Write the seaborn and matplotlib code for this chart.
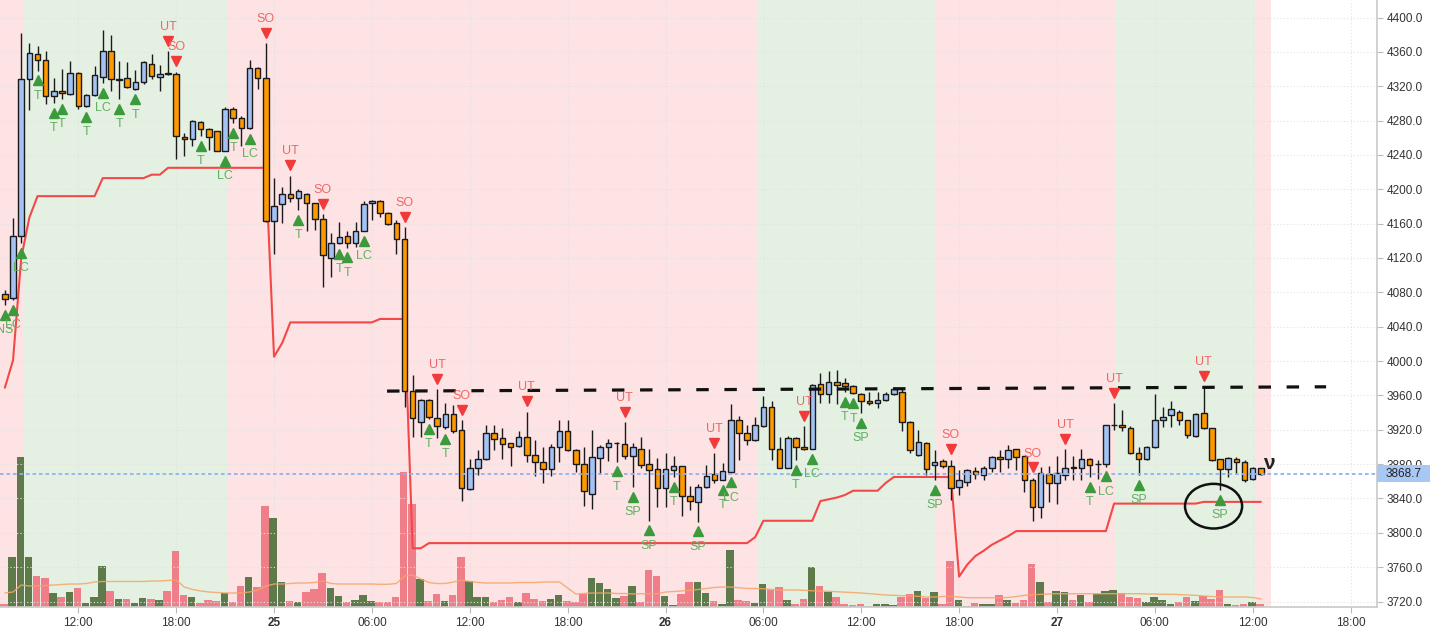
import numpy as np
import pandas as pd
import matplotlib
matplotlib.use("Agg")
import matplotlib.pyplot as plt
import matplotlib.transforms as mtransforms
from matplotlib.patches import Ellipse, Rectangle
import seaborn as sns

sns.set_theme(style="white")
plt.rcParams["font.family"] = ["Liberation Sans", "DejaVu Sans"]

# 30-minute candles, first one on the 24th at 07:30
opens = [
    4078, 4073, 4146, 4328, 4358, 4351, 4309, 4314, 4311, 4335,
    4297, 4310, 4331, 4361, 4327, 4330, 4317, 4325, 4346, 4331,
    4335, 4334, 4261, 4258, 4278, 4270, 4268, 4245, 4293, 4283,
    4271, 4341, 4329, 4163, 4183, 4194, 4190, 4195, 4184, 4165,
    4120, 4137, 4146, 4137, 4152, 4184, 4186, 4172, 4161, 4142,
    3965, 3929, 3955, 3934, 3923, 3938, 3920, 3851, 3875, 3886,
    3916, 3910, 3904, 3901, 3911, 3891, 3882, 3874, 3900, 3919,
    3896, 3880, 3845, 3887, 3900, 3904, 3903, 3889, 3898, 3880,
    3874, 3852, 3873, 3878, 3843, 3836, 3853, 3869, 3862, 3871,
    3931, 3916, 3908, 3924, 3946, 3898, 3876, 3910, 3900, 3898,
    3973, 3962, 3976, 3975, 3971, 3962, 3954, 3951, 3955, 3962,
    3964, 3929, 3891, 3905, 3879, 3884, 3878, 3853, 3859, 3872,
    3867, 3876, 3888, 3886, 3897, 3889, 3861, 3830, 3869, 3858,
    3867, 3876.5, 3876, 3886, 3880, 3880, 3925, 3925, 3922, 3893,
    3886, 3900, 3931, 3937, 3941, 3931, 3913, 3939, 3922, 3886,
    3874, 3886, 3883, 3863, 3875,
]
highs = [
    4083, 4166, 4382, 4370, 4367, 4361, 4330, 4340, 4349, 4336,
    4311, 4343, 4386, 4380, 4349, 4348, 4339, 4349, 4358, 4345,
    4361, 4337, 4266, 4281, 4279, 4271, 4268, 4296, 4296, 4285,
    4351, 4342, 4370, 4213, 4203, 4216, 4200, 4196, 4184, 4171,
    4149, 4162, 4152, 4162, 4186, 4188, 4188, 4173, 4164, 4156,
    3984, 3956, 3956, 3967, 3951, 3949, 3931, 3886, 3896, 3926,
    3926, 3922, 3905, 3918, 3941, 3908, 3900, 3903, 3931, 3931,
    3897, 3900, 3920, 3902, 3909, 3906, 3929, 3905, 3911, 3898,
    3887, 3893, 3889, 3878, 3854, 3857, 3879, 3893, 3881, 3950,
    3936, 3926, 3935, 3959, 3953, 3911, 3913, 3911, 3924, 3973,
    3986, 3988, 3990, 3980, 3972, 3963, 3964, 3964, 3964, 3970,
    3968, 3930, 3920, 3906, 3896, 3886, 3885, 3873, 3874, 3877,
    3878, 3889, 3896, 3902, 3898, 3889, 3864, 3877, 3878, 3889,
    3897, 3889, 3897, 3887, 3885, 3926, 3951, 3943, 3924, 3900,
    3901, 3962, 3947, 3954, 3943, 3931, 3940, 3971, 3922, 3886,
    3888, 3888, 3885, 3877, 3876,
]
lows = [
    4065, 4071, 4137, 4292, 4338, 4299, 4300, 4305, 4310, 4293,
    4296, 4309, 4324, 4315, 4305, 4318, 4316, 4323, 4328, 4315,
    4333, 4235, 4239, 4250, 4262, 4246, 4245, 4244, 4277, 4250,
    4270, 4317, 4162, 4125, 4161, 4185, 4176, 4151, 4153, 4086,
    4098, 4136, 4132, 4133, 4151, 4164, 4168, 4158, 4125, 3947,
    3911, 3911, 3932, 3910, 3921, 3916, 3837, 3850, 3867, 3885,
    3896, 3886, 3878, 3900, 3883, 3866, 3858, 3866, 3883, 3895,
    3871, 3831, 3828, 3869, 3884, 3883, 3886, 3853, 3876, 3814,
    3830, 3830, 3865, 3820, 3826, 3813, 3852, 3858, 3861, 3870,
    3885, 3902, 3907, 3923, 3885, 3876, 3876, 3885, 3896, 3897,
    3951, 3951, 3950, 3964, 3962, 3939, 3949, 3945, 3954, 3961,
    3919, 3893, 3890, 3867, 3861, 3875, 3838, 3844, 3854, 3863,
    3862, 3871, 3871, 3875, 3873, 3848, 3814, 3817, 3836, 3834,
    3861, 3861, 3861, 3865, 3863, 3877, 3920, 3918, 3892, 3867,
    3885, 3899, 3923, 3923, 3925, 3910, 3912, 3921, 3884, 3850,
    3865, 3869, 3859, 3862, 3867,
]
closes = [
    4072, 4146, 4328, 4359, 4350, 4309, 4314, 4312, 4335, 4297,
    4310, 4333, 4361, 4328, 4328, 4319, 4325, 4348, 4332, 4334,
    4334, 4262, 4258, 4280, 4270, 4261, 4245, 4293, 4283, 4271,
    4341, 4330, 4163, 4180, 4195, 4190, 4198, 4184, 4165, 4123,
    4137, 4145, 4138, 4152, 4183, 4186, 4172, 4160, 4142, 3965,
    3934, 3955, 3935, 3924, 3938, 3918, 3852, 3875, 3886, 3916,
    3909, 3903, 3900, 3911, 3891, 3882, 3874, 3900, 3919, 3896,
    3880, 3849, 3888, 3900, 3905, 3905, 3889, 3900, 3879, 3873,
    3852, 3874, 3878, 3843, 3837, 3853, 3866, 3862, 3872, 3931,
    3916, 3908, 3926, 3946, 3898, 3876, 3910, 3900, 3897, 3972,
    3962, 3976, 3972, 3971, 3963, 3954, 3951, 3955, 3962, 3968,
    3929, 3896, 3906, 3874, 3883, 3878, 3852, 3862, 3873, 3869,
    3876, 3888, 3886, 3896, 3888, 3861, 3830, 3870, 3858, 3870,
    3876, 3876, 3886, 3879, 3880.5, 3925, 3925.5, 3923, 3893, 3886,
    3900, 3931, 3935, 3944, 3931, 3914, 3938, 3922, 3885, 3874,
    3887, 3883, 3862, 3875, 3868.7,
]
volumes = [
    3, 50, 150, 50, 31, 29, 14, 10, 15, 19,
    4, 10, 41, 16, 8, 8, 4, 9, 8, 7,
    16, 56, 12, 10, 4, 7, 6, 14, 5, 21,
    30, 20, 101, 89, 25, 6, 5, 15, 18, 34,
    19, 11, 5, 7, 12, 6, 5, 5, 10, 135,
    103, 28, 6, 13, 6, 12, 50, 26, 10, 10,
    5, 7, 10, 5, 14, 8, 6, 8, 12, 6,
    5, 13, 29, 24, 18, 9, 11, 21, 5, 37,
    31, 11, 2, 13, 25, 25, 14, 6, 3, 57,
    7, 6, 4, 23, 17, 20, 7, 3, 8, 40,
    21, 15, 10, 3, 2, 3, 1, 3, 3, 2,
    10, 13, 16, 9, 15, 3, 46, 7, 1, 4,
    3, 3, 12, 7, 4, 7, 43, 25, 5, 16,
    15, 7, 12, 5, 13, 16, 17, 14, 10, 9,
    5, 10, 7, 3, 5, 10, 6, 11, 8, 17,
    3, 2, 3, 5, 3,
]
volume_ma = [
    14, 15, 22, 21, 21, 21.5, 22, 22.5, 23, 23,
    23.5, 25, 25.5, 25.5, 25.5, 25.5, 25.5, 25.5, 26, 26,
    26.5, 27, 20, 17.5, 16, 15, 14.5, 14, 14, 14,
    15, 17, 21, 23, 23, 23.5, 24, 24, 24.5, 26,
    23.5, 23, 23, 23, 23, 23, 22.7, 22.7, 23.5, 31,
    32, 28, 24.5, 23.5, 23.5, 25, 26.7, 25.5, 24.5, 24,
    24, 24, 24, 24.5, 24.5, 24.5, 25, 25, 25, 19,
    13, 13.5, 14, 14, 14, 13.5, 13.5, 13, 13.3, 13.3,
    13.3, 15, 15.5, 16, 16.7, 17.5, 18.5, 19.5, 20, 20,
    19.3, 18.5, 18.5, 18.3, 17.5, 17, 17, 17, 16.7, 16.2,
    16, 15.7, 15.3, 15, 14.5, 14, 13.3, 12.5, 12, 11.7,
    11.3, 11, 10.7, 10, 10, 10.5, 10.7, 10, 9.3, 9.3,
    9.3, 9.3, 9.3, 9.5, 10.5, 11.7, 12.3, 12.7, 13, 13.3,
    13.3, 13.3, 13.3, 13.3, 13.3, 13.3, 13.3, 13.3, 13.3, 13.3,
    13, 13, 12.7, 12.7, 12.5, 12, 11.7, 11, 10.5, 10,
    10, 10, 10, 9.5, 8,
]
stop_line = [
    3969, 4001, 4120, 4167, 4192, 4192, 4192, 4192, 4192, 4192,
    4192, 4192, 4213, 4213, 4213, 4213, 4213, 4213, 4217, 4217,
    4225, 4225, 4225, 4225, 4225, 4225, 4225, 4225, 4225, 4225,
    4225, 4225, 4225, 4005, 4021, 4045, 4045, 4045, 4045, 4045,
    4045, 4045, 4045, 4045, 4045, 4045, 4049, 4049, 4049, 4049,
    3782, 3782, 3788, 3788, 3788, 3788, 3788, 3788, 3788, 3788,
    3788, 3788, 3788, 3788, 3788, 3788, 3788, 3788, 3788, 3788,
    3788, 3788, 3788, 3788, 3788, 3788, 3788, 3788, 3788, 3788,
    3788, 3788, 3788, 3788, 3788, 3788, 3788, 3788, 3788, 3788,
    3788, 3788, 3795, 3814, 3814, 3814, 3814, 3814, 3814, 3814,
    3837, 3839, 3841, 3844, 3849, 3849, 3849, 3849, 3858, 3865,
    3865, 3865, 3865, 3865, 3865, 3865, 3865, 3749, 3763, 3773,
    3779, 3786, 3791, 3796, 3802, 3802, 3802, 3802, 3802, 3802,
    3802, 3802, 3802, 3802, 3802, 3802, 3834, 3834, 3834, 3834,
    3834, 3834, 3834, 3834, 3834, 3834, 3834, 3836, 3836, 3836,
    3836, 3836, 3836, 3836, 3836,
]

# signals (candle index + label)
sell_idx = [20, 21, 32, 35, 39, 49, 53, 56, 64, 76, 87, 98, 116, 126, 130, 136, 147]
sell_lab = ["UT", "SO", "SO", "UT", "SO", "SO", "UT", "SO", "UT", "UT", "UT", "UT",
            "SO", "SO", "UT", "UT", "UT"]
buy_idx = [0, 1, 2, 4, 6, 7, 10, 12, 14, 16, 24, 27, 28, 30, 36, 41, 42, 44, 52, 54,
           75, 77, 79, 82, 85, 88, 89, 97, 99, 103, 104, 105, 114, 133, 135, 139, 149]
buy_lab = ["NS", "LC", "LC", "T", "T", "T", "T", "LC", "T", "T", "T", "LC", "T", "LC",
           "T", "T", "T", "LC", "T", "T", "T", "SP", "SP", "T", "SP", "T", "LC", "T",
           "LC", "T", "T", "SP", "SP", "T", "LC", "SP", "SP"]

# background regime zones, hours since the 24th 00:00
zone_edges = [7.2, 8.65, 21.2, 53.6, 64.6, 75.6, 84.15, 85.15]
zone_bull = [False, True, False, True, False, True, False]

# hand drawn level + annotations
level_hours = [30.93, 88.5]
level_prices = [3965, 3970]
last_price = 3868.7
circle_center = (81.6, 3831)
circle_size = (3.5, 52)
mark_pos = (85.0, 3881)

tick_hours = [12, 18, 24, 30, 36, 42, 48, 54, 60, 66, 72, 78, 84, 90]
tick_labels = ["12:00", "18:00", "25", "06:00", "12:00", "18:00", "26",
               "06:00", "12:00", "18:00", "27", "06:00", "12:00", "18:00"]

n = len(opens)
df = pd.DataFrame({
    "t": 7.5 + 0.5 * np.arange(n),
    "o": opens, "h": highs, "l": lows, "c": closes,
    "v": volumes, "vma": volume_ma, "stop": stop_line,
})
df["up"] = df["c"] >= df["o"]

PINK_BG = "#fde3e4"
GREEN_BG = "#e4f1e2"
UP_BODY = "#a4c2f4"
DN_BODY = "#ff9900"
VOL_UP = "#5f7a4a"
VOL_DN = "#f07e88"
RED_TRI = "#f23a3a"
RED_TXT = "#f06666"
GRN_TRI = "#3b9a3b"
GRN_TXT = "#62ae62"

fig = plt.figure(figsize=(14.3, 6.34), dpi=100)
axv = fig.add_axes([0, 27 / 634, 1377 / 1430, 607 / 634])
ax = axv.twinx()

# zones
for k, bull in enumerate(zone_bull):
    axv.axvspan(zone_edges[k], zone_edges[k + 1], color=GREEN_BG if bull else PINK_BG,
                lw=0, zorder=0)

# volume
axv.bar(df["t"] - 0.05, df["v"], width=0.46, color=np.where(df["up"], VOL_UP, VOL_DN),
        linewidth=0, zorder=2)
sns.lineplot(data=df, x="t", y="vma", ax=axv, color="#f5a467", linewidth=1,
             alpha=0.85, zorder=3, legend=False)
axv.set_ylim(0, 607)
axv.set_yticks([])

# trailing stop
sns.lineplot(data=df, x="t", y="stop", ax=ax, color="#f44848", linewidth=1.5,
             zorder=3, legend=False)

# candles
ax.vlines(df["t"], df["l"], df["h"], color="#1a1a1a", linewidth=1, zorder=4)
body_lo = np.minimum(df["o"], df["c"])
body_h = (df["c"] - df["o"]).abs()
ax.bar(df["t"], body_h, bottom=body_lo, width=0.34,
       color=np.where(df["up"], UP_BODY, DN_BODY), edgecolor="#1a1a1a",
       linewidth=1, zorder=5)

# level and last price
ax.plot(level_hours, level_prices, color="#111111", linewidth=2.3,
        dashes=(3.9, 4.9), zorder=6)
ax.axhline(last_price, color="#8fb3ef", linewidth=1.3, dashes=(2, 1.6), zorder=6)

# signals
st = df.loc[sell_idx]
bt = df.loc[buy_idx]
tr_sell = mtransforms.offset_copy(ax.transData, fig=fig, y=7.5, units="points")
tr_buy = mtransforms.offset_copy(ax.transData, fig=fig, y=-7.0, units="points")
ax.plot(st["t"], st["h"], "v", ms=7, color=RED_TRI, transform=tr_sell, zorder=7)
ax.plot(bt["t"], bt["l"], "^", ms=7, color=GRN_TRI, transform=tr_buy, zorder=7)
for (x, y), lab in zip(zip(st["t"], st["h"]), sell_lab):
    ax.annotate(lab, (x, y), xytext=(0, 17.5), textcoords="offset points",
                ha="center", va="center", fontsize=9, color=RED_TXT, zorder=7)
for (x, y), lab in zip(zip(bt["t"], bt["l"]), buy_lab):
    ax.annotate(lab, (x, y), xytext=(0, -18), textcoords="offset points",
                ha="center", va="center", fontsize=9, color=GRN_TXT, zorder=7)

# hand drawings
ax.add_patch(Ellipse(circle_center, circle_size[0], circle_size[1], fill=False,
                     edgecolor="#111111", linewidth=1.8, zorder=8))
ax.text(mark_pos[0], mark_pos[1], "ν", fontsize=15, color="#222222",
        fontweight="bold", ha="center", va="center", zorder=8)

# axes
axv.set_xlim(7.2, 91.62)
ax.set_ylim(3713.6, 4420.4)
ax.set_yticks(np.arange(3720, 4401, 40))
ax.set_yticklabels([f"{v:.1f}" for v in np.arange(3720, 4401, 40)])
ax.tick_params(axis="y", right=True, length=4, width=0.8, color="#bbbbbb",
               labelsize=8.5, labelcolor="#333333", pad=3)
axv.set_xticks(tick_hours)
axv.set_xticklabels(tick_labels)
for lab in axv.get_xticklabels():
    if ":" not in lab.get_text():
        lab.set_fontweight("bold")
        lab.set_color("#111111")
axv.tick_params(axis="x", bottom=True, length=4, width=0.8, color="#bbbbbb",
                labelsize=8.5, labelcolor="#333333", pad=3)
axv.set_xlabel("")
axv.set_ylabel("")
ax.set_xlabel("")
ax.set_ylabel("")

axv.grid(axis="x", color="#e2e2e2", linestyle=(0, (1, 2)), linewidth=0.8)
ax.grid(axis="y", color="#e2e2e2", linestyle=(0, (1, 2)), linewidth=0.8)

for s in ["top", "left", "right"]:
    axv.spines[s].set_visible(False)
axv.spines["bottom"].set_color("#cccccc")
for s in ["top", "left", "bottom"]:
    ax.spines[s].set_visible(False)
ax.spines["right"].set_color("#cccccc")

# last price tag
blend = mtransforms.blended_transform_factory(ax.transAxes, ax.transData)
ax.add_patch(Rectangle((1.0, last_price - 9.9), 0.06, 19.8, transform=blend,
                       facecolor="#a9c7f4", edgecolor="none", clip_on=False, zorder=9))
ax.annotate(f"{last_price:.1f}", xy=(1.0, last_price), xycoords=blend,
            xytext=(6.5, 0), textcoords="offset points", ha="left", va="center",
            fontsize=8.5, color="#222222", annotation_clip=False, zorder=10)

fig.savefig("out.png", dpi=100)
